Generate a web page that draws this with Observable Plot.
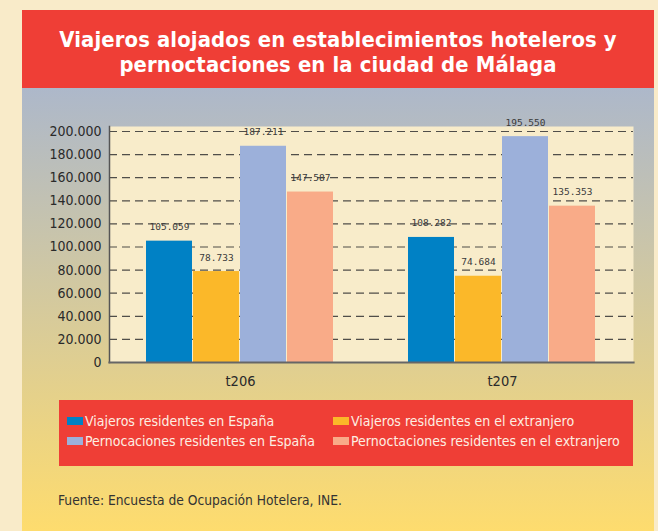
<!DOCTYPE html>
<html>
<head>
<meta charset="utf-8">
<script src="https://cdn.jsdelivr.net/npm/d3@7"></script>
<script src="https://cdn.jsdelivr.net/npm/@observablehq/plot@0.6"></script>
<style>
  html, body { margin: 0; padding: 0; }
  body { width: 658px; height: 531px; background: #f9ebc9; position: relative; overflow: hidden; font-family: "DejaVu Sans Condensed", "DejaVu Sans", sans-serif; font-stretch: condensed; }
  #title { position: absolute; left: 22px; top: 10px; width: 632px; height: 78px; background: #ef3e36; color: #fff; text-align: center; font-size: 21.8px; font-weight: bold; line-height: 25px; box-sizing: border-box; padding-top: 17px; letter-spacing: 0.15px; }
  #grad { position: absolute; left: 22px; top: 88px; width: 632px; height: 443px; background: linear-gradient(to bottom, #adb8ca 0%, #fedc6e 100%); }
  #chart { position: absolute; left: 22px; top: 88px; }
  #legend { position: absolute; left: 59px; top: 400px; width: 574px; height: 66px; background: #ef3e36; color: #fdeee2; font-size: 14px; }
  .item { position: absolute; display: flex; align-items: center; white-space: nowrap; }
  .sw { display: inline-block; width: 16px; height: 8px; margin-right: 2px; }
  #caption { position: absolute; left: 58px; top: 492px; font-size: 13.7px; color: #333; }
</style>
</head>
<body>
<div id="grad"></div>
<div id="title">Viajeros alojados en establecimientos hoteleros y<br>pernoctaciones en la ciudad de Málaga</div>
<div id="chart"></div>
<div id="legend"></div>
<div id="caption">Fuente: Encuesta de Ocupación Hotelera, INE.</div>
<script>
const periods = ["t206", "t207"];
const seriesNames = [
  "Viajeros residentes en España",
  "Viajeros residentes en el extranjero",
  "Pernocaciones residentes en España",
  "Pernoctaciones residentes en el extranjero"
];
const seriesColors = ["#0081c5", "#fbb829", "#9cb0da", "#f9ab88"];
const valuesT206 = [105059, 78733, 187211, 147587];
const valuesT207 = [108282, 74684, 195550, 135353];
const yTicks = [0, 20000, 40000, 60000, 80000, 100000, 120000, 140000, 160000, 180000, 200000];

const data = [];
[valuesT206, valuesT207].forEach((vals, pi) => {
  vals.forEach((v, si) => data.push({period: periods[pi], series: seriesNames[si], value: v}));
});

const locale = d3.formatLocale({decimal: ",", thousands: ".", grouping: [3], currency: ["", "€"]});
const fmt = locale.format(",d");

const chart = Plot.plot({
  width: 632,
  height: 305,
  marginLeft: 87,
  marginRight: 21,
  marginTop: 38,
  marginBottom: 31,
  style: {background: "transparent", fontFamily: "\"DejaVu Sans Condensed\", \"DejaVu Sans\", sans-serif", overflow: "visible"},
  fx: {domain: periods, padding: 0, label: null},
  x: {domain: seriesNames, paddingInner: 0.02, paddingOuter: 0.74, axis: null},
  y: {domain: [0, 204330], label: null},
  color: {domain: seriesNames, range: seriesColors},
  marks: [
    Plot.frame({facet: "super", fill: "#f8ecca", stroke: null}),
    Plot.gridY(yTicks.filter(d => d > 0), {stroke: "#333", strokeWidth: 1.2, strokeDasharray: "8,5", strokeOpacity: 0.85}),
    Plot.barY(data, {fx: "period", x: "series", y: "value", fill: "series"}),
    Plot.text(data, {fx: "period", x: "series", y: "value", text: d => fmt(d.value), dy: -14, fontSize: 9.5, fontFamily: "\"DejaVu Sans Mono\", monospace", fill: "#3a3a3a"}),
    Plot.axisY({ticks: yTicks, tickFormat: fmt, tickSize: 0, tickPadding: 8, fontSize: 14, fill: "#2a2a2a", label: null}),
    Plot.axisFx({anchor: "bottom", tickSize: 0, tickPadding: 13, fontSize: 14.5, fill: "#2a2a2a", label: null}),
    Plot.frame({facet: "super", anchor: "left", stroke: "#555", strokeWidth: 1.5}),
    Plot.frame({facet: "super", anchor: "bottom", stroke: "#666", strokeWidth: 2.2})
  ]
});
document.getElementById("chart").appendChild(chart);

// legend
const legend = document.getElementById("legend");
const pos = [[8, 13], [274, 13], [8, 33], [274, 33]];
seriesNames.forEach((name, i) => {
  const it = document.createElement("div");
  it.className = "item";
  it.style.left = pos[i][0] + "px";
  it.style.top = pos[i][1] + "px";
  const sw = document.createElement("span");
  sw.className = "sw";
  sw.style.background = seriesColors[i];
  it.appendChild(sw);
  it.appendChild(document.createTextNode(name));
  legend.appendChild(it);
});
</script>
</body>
</html>
